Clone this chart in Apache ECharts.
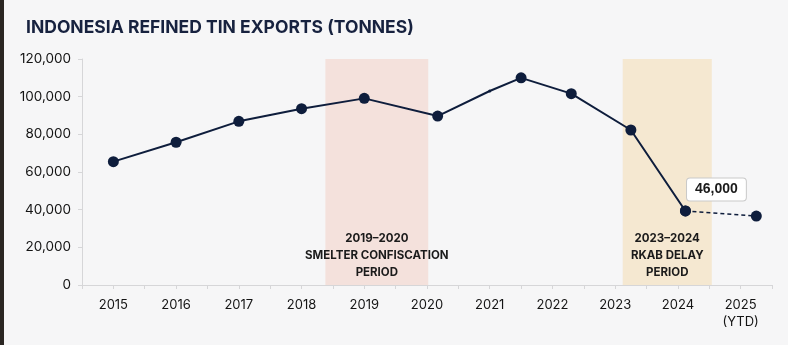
<!DOCTYPE html>
<html>
<head>
<meta charset="utf-8">
<script src="https://cdn.jsdelivr.net/npm/echarts@6/dist/echarts.min.js"></script>
<style>
  html, body { margin: 0; padding: 0; background: #f6f6f7; }
  #chart { width: 788px; height: 345px; }
</style>
</head>
<body>
<div id="chart"></div>
<script>
// export points (year position, tonnes)
const years = [2015, 2016, 2017, 2018, 2019, 2020.17, 2021, 2021.5, 2022.3, 2023.25, 2024.12];
const tonnes = [65500, 75800, 86900, 93600, 99100, 89700, 103000, 110000, 101600, 82300, 39300];
const ytdYears = [2024.12, 2025.25];
const ytdTonnes = [39300, 36600];
const calloutText = '46,000';

const periodStart = [2018.38, 2023.12];
const periodEnd = [2020.02, 2024.54];
const periodLabels = ['2019–2020\nSMELTER CONFISCATION\nPERIOD', '2023–2024\nRKAB DELAY\nPERIOD'];
const periodColors = ['#f4e1dc', '#f5e8d1'];

const navy = '#0e1d3c';
const chart = echarts.init(document.getElementById('chart'));

const mainData = years.map(function (y, i) {
    const item = { value: [y, tonnes[i]] };
    if (y === 2021) item.symbolSize = 3;
    if (i === years.length - 1) {
        item.label = {
            show: true,
            position: 'top',
            offset: [31, 0],
            formatter: calloutText,
            color: '#1b1b1b',
            fontSize: 14,
            fontWeight: 'bold',
            backgroundColor: '#ffffff',
            borderColor: '#c9c9c9',
            borderWidth: 1,
            borderRadius: 3,
            padding: [4, 8]
        };
    }
    return item;
});

const areas = periodStart.map(function (s, i) {
    return [
        { xAxis: s, itemStyle: { color: periodColors[i] },
          label: { formatter: periodLabels[i] } },
        { xAxis: periodEnd[i] }
    ];
});

chart.setOption({
    backgroundColor: '#f6f6f7',
    animation: false,
    title: {
        text: 'INDONESIA REFINED TIN EXPORTS (TONNES)',
        left: 21,
        top: 14,
        textStyle: { fontFamily: 'Inter', fontSize: 17.5, fontWeight: 'bold', color: '#17223f' }
    },
    graphic: [{
        type: 'rect', left: 0, top: 0, shape: { width: 4, height: 345 },
        style: { fill: '#2a2622' }
    }],
    grid: { left: 82, right: 16, top: 59, bottom: 60 },
    xAxis: {
        type: 'value',
        min: 2014.5,
        max: 2025.5,
        interval: 0.5,
        axisLine: { lineStyle: { color: '#d6d6d8' } },
        axisTick: { length: 4, lineStyle: { color: '#d6d6d8' } },
        splitLine: { show: false },
        axisLabel: {
            margin: 12,
            fontFamily: 'Inter',
            fontSize: 13,
            color: '#141414',
            lineHeight: 17,
            showMinLabel: true,
            showMaxLabel: true,
            formatter: function (v) {
                if (v % 1 !== 0) return '';
                return v === 2025 ? '2025\n(YTD)' : String(v);
            }
        }
    },
    yAxis: {
        type: 'value',
        min: 0,
        max: 120000,
        interval: 20000,
        axisLine: { show: true, lineStyle: { color: '#d6d6d8' } },
        axisTick: { show: true, length: 4, lineStyle: { color: '#d6d6d8' } },
        splitLine: { show: false },
        axisLabel: {
            margin: 11,
            fontFamily: 'Inter',
            fontSize: 13.5,
            color: '#141414',
            formatter: function (v) { return v.toLocaleString('en-US'); }
        }
    },
    series: [{
        type: 'line',
        data: mainData,
        symbol: 'circle',
        symbolSize: 11,
        z: 3,
        lineStyle: { color: navy, width: 2 },
        itemStyle: { color: navy },
        markArea: {
            silent: true,
            label: {
                position: 'insideBottom',
                distance: 4,
                fontFamily: 'Inter',
                fontSize: 11.5,
                fontWeight: 'bold',
                lineHeight: 17,
                color: '#1b1b1b'
            },
            data: areas
        }
    }, {
        type: 'line',
        data: ytdYears.map(function (y, i) { return [y, ytdTonnes[i]]; }),
        symbol: 'circle',
        symbolSize: 11,
        z: 2,
        lineStyle: { color: navy, width: 1.6, type: [4, 3] },
        itemStyle: { color: navy }
    }]
});
</script>
</body>
</html>
